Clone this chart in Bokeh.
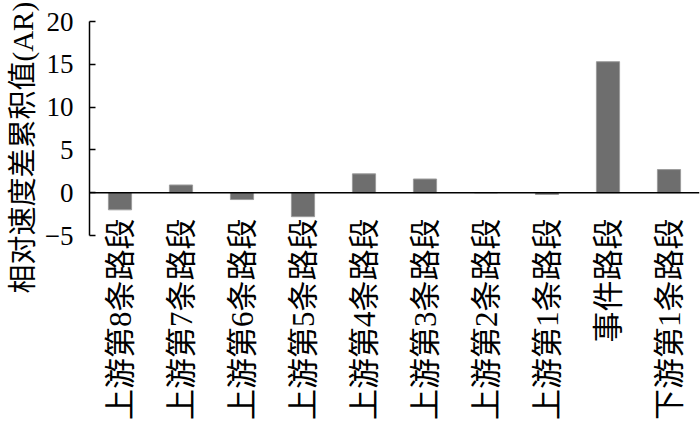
import math
from bokeh.plotting import figure
from bokeh.models import Span, Title, FixedTicker, FactorRange, Range1d, ColumnDataSource
from bokeh.embed import file_html
from bokeh.resources import INLINE

categories = ["上游第8条路段", "上游第7条路段", "上游第6条路段", "上游第5条路段",
              "上游第4条路段", "上游第3条路段", "上游第2条路段", "上游第1条路段",
              "事件路段", "下游第1条路段"]
ar_values = [-2.0, 0.9, -0.8, -2.8, 2.2, 1.6, 0.0, -0.2, 15.3, 2.7]
y_ticks = [-5, 0, 5, 10, 15, 20]
y_label = "相对速度差累积值(AR)"

FONT = "'Liberation Serif', 'Noto Sans CJK SC'"

src = ColumnDataSource(dict(cat=categories, val=ar_values))

p = figure(width=700, height=422, output_backend="svg", toolbar_location=None,
           x_range=FactorRange(*categories), y_range=Range1d(-5, 20),
           min_border_left=89, min_border_right=1, min_border_top=21, min_border_bottom=187)

p.vbar(x="cat", top="val", bottom=0, width=0.38, source=src,
       fill_color="#6e6e6e", line_color="#9c9c9c", line_width=1)

p.add_layout(Span(location=0, dimension="width", line_color="black", line_width=1.5))

p.outline_line_color = None
p.xgrid.grid_line_color = None
p.ygrid.grid_line_color = None
p.background_fill_color = "white"
p.border_fill_color = "white"

ya = p.yaxis[0]
ya.ticker = FixedTicker(ticks=y_ticks)
ya.axis_line_color = "black"
ya.axis_line_width = 1.5
ya.major_tick_line_color = "black"
ya.major_tick_line_width = 1.5
ya.major_tick_in = 6
ya.major_tick_out = 0
ya.minor_tick_line_color = None
ya.major_label_text_font = FONT
ya.major_label_text_font_size = "27px"
ya.major_label_text_color = "black"
ya.major_label_standoff = 16

xa = p.xaxis[0]
xa.axis_line_color = None
xa.major_tick_line_color = None
xa.minor_tick_line_color = None
xa.major_label_orientation = math.pi / 2
xa.major_label_standoff = -23
xa.major_label_text_font = FONT
xa.major_label_text_font_size = "31px"
xa.major_label_text_color = "black"

t = Title(text=y_label, align="left", offset=-58, standoff=6,
          text_font=FONT, text_font_size="29px", text_font_style="normal",
          text_color="black")
p.add_layout(t, "left")

open("out.html", "w").write(file_html(p, INLINE))
